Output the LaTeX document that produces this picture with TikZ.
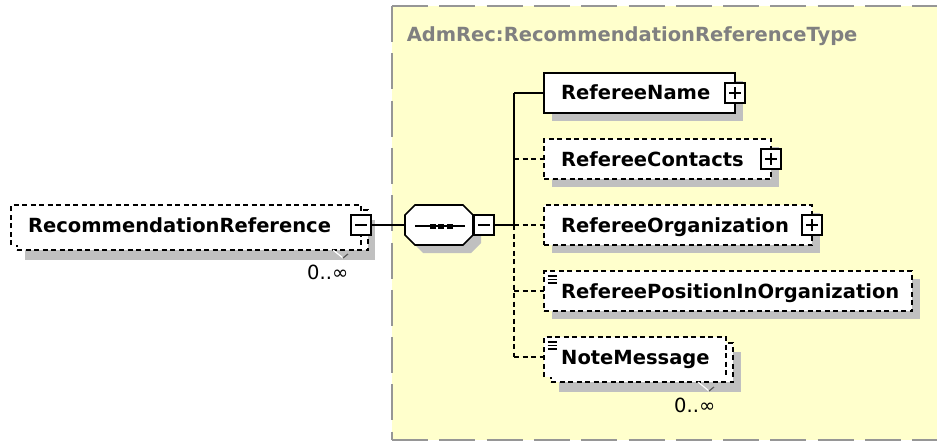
\documentclass[tikz,border=0pt]{standalone}
\usepackage{fontspec}
\setmainfont{DejaVu Sans}
\usetikzlibrary{calc}
\definecolor{typebg}{RGB}{255,255,204}
\definecolor{typeline}{RGB}{150,150,150}
\definecolor{shadowc}{RGB}{192,192,192}
\definecolor{titlec}{RGB}{128,128,128}
\tikzset{
  box/.style={rectangle, inner sep=0pt, outer sep=0pt, anchor=north west, fill=white},
  solidbox/.style={box, draw=black, line width=1.8pt},
  dashbox/.style={box, draw=black, line width=1.7pt, dash pattern=on 5pt off 3.5pt},
  dline/.style={black, line width=1.7pt, dash pattern=on 5pt off 3.5pt},
  shadowbox/.style={rectangle, inner sep=0pt, outer sep=0pt, anchor=north west, fill=shadowc},
  lbl/.style={inner sep=0pt, anchor=base west, font=\fontsize{19.5}{22}\selectfont\bfseries},
  ttlstyle/.style={lbl, text=titlec},
  occ/.style={inner sep=0pt, anchor=base west, font=\fontsize{19.5}{22}\selectfont},
  conn/.style={black, line width=1.7pt},
  dconn/.style={conn, dash pattern=on 5pt off 3.5pt},
  pm/.style={rectangle, draw=black, fill=white, line width=1.4pt, minimum width=20pt, minimum height=20pt, inner sep=0pt, outer sep=0pt},
  pmline/.style={black, line width=1.4pt},
  typedash/.style={typeline, line width=2pt, dash pattern=on 36pt off 11.3pt},
  iconline/.style={black, line width=1.1pt},
}
\begin{document}
\begin{tikzpicture}[x=1pt,y=-1pt]
\useasboundingbox (0,0) rectangle (937,441);
\clip (0,0) rectangle (937,441);

% complex type box
\fill[typebg] (392,6) rectangle (990,440);
\draw[typedash] (392,6) -- (990,6);
\draw[typedash] (392,6) -- (392,440);
\draw[typedash] (392,440) -- (990,440);
\node[ttlstyle] (ttl) at (406.6,42) {AdmRec:RecommendationReferenceType};

% RecommendationReference (multiple occurrence)
\node[shadowbox, minimum width=350pt, minimum height=40pt] (rrS) at (25,220) {};
\node[dashbox, minimum width=351pt, minimum height=40pt] (rrB) at (17,210) {};
\node[box, minimum width=350pt, minimum height=40pt] (rrF) at (11,205) {};
\draw[dline] (rrF.south west) -- (rrF.north west) -- (rrF.north east) -- (rrF.south east);
\draw[white, line width=1.2pt] (333,250) -- (343,258);
\draw[black!65, line width=1.2pt] (343,258) -- (348,254);
\node[lbl] (rrT) at (28,232) {RecommendationReference};
\node[pm] (rrm) at (361,225) {};
\draw[pmline] ($(rrm.west)+(4,0)$) -- ($(rrm.east)+(-4,0)$);
\node[occ] (rrO) at (307,279) {0..∞};

% sequence compositor
\fill[shadowc] (423,213) -- (471,213) -- (481,223) -- (481,243) -- (471,253) -- (423,253) -- (413,243) -- (413,223) -- cycle;
\node[box, fill=none, minimum width=68pt, minimum height=40pt] (seq) at (405,205) {};
\draw[black, fill=white, line width=1.6pt]
  ($(seq.north west)+(10,0)$) -- ($(seq.north east)+(-10,0)$) -- ($(seq.north east)+(0,10)$)
  -- ($(seq.south east)+(0,-10)$) -- ($(seq.south east)+(-10,0)$) -- ($(seq.south west)+(10,0)$)
  -- ($(seq.south west)+(0,-10)$) -- ($(seq.north west)+(0,10)$) -- cycle;
\draw[conn, line width=1.5pt] ($(seq.west)+(10,1)$) -- ($(seq.east)+(-8,1)$);
\fill[black] (429.5,223.5) rectangle (435.5,228.5);
\fill[black] (438,223.5) rectangle (444,228.5);
\fill[black] (446.5,223.5) rectangle (452.5,228.5);
\node[pm] (seqm) at (484,225) {};
\draw[pmline] ($(seqm.west)+(4,0)$) -- ($(seqm.east)+(-4,0)$);

% connectors from element to sequence
\draw[conn] (rrm.east) -- (rrm.east -| seq.west);

% spine coordinates
\coordinate (sp0) at (514,93);
\coordinate (sp1) at (514,159);
\coordinate (sp2) at (514,225);
\coordinate (sp3) at (514,291);
\coordinate (sp4) at (514,357);
\draw[conn] (seqm.east) -- (sp2);
\draw[conn] (sp2) -- (sp0);
\draw[dconn] (sp2) -- (sp4);

% RefereeName
\node[shadowbox, minimum width=191pt, minimum height=40pt] (rnS) at (552,81) {};
\node[solidbox, minimum width=191pt, minimum height=40pt] (rn) at (544,73) {};
\node[lbl] (rnT) at (561,100) {RefereeName};
\node[pm] (rnp) at (rn.east) {};
\draw[pmline] ($(rnp.west)+(4,0)$) -- ($(rnp.east)+(-4,0)$);
\draw[pmline] ($(rnp.north)+(0,4)$) -- ($(rnp.south)+(0,-4)$);
\draw[conn] (sp0) -- (rn.west);

% RefereeContacts
\node[shadowbox, minimum width=227pt, minimum height=40pt] (rcS) at (552,147) {};
\node[dashbox, minimum width=227pt, minimum height=40pt] (rc) at (544,139) {};
\node[lbl] (rcT) at (561,166) {RefereeContacts};
\node[pm] (rcp) at (rc.east) {};
\draw[pmline] ($(rcp.west)+(4,0)$) -- ($(rcp.east)+(-4,0)$);
\draw[pmline] ($(rcp.north)+(0,4)$) -- ($(rcp.south)+(0,-4)$);
\draw[dconn] (sp1) -- (rc.west);

% RefereeOrganization
\node[shadowbox, minimum width=268pt, minimum height=40pt] (roS) at (552,213) {};
\node[dashbox, minimum width=268pt, minimum height=40pt] (ro) at (544,205) {};
\node[lbl] (roT) at (561,232) {RefereeOrganization};
\node[pm] (rop) at (ro.east) {};
\draw[pmline] ($(rop.west)+(4,0)$) -- ($(rop.east)+(-4,0)$);
\draw[pmline] ($(rop.north)+(0,4)$) -- ($(rop.south)+(0,-4)$);
\draw[dconn] (sp2) -- (ro.west);

% RefereePositionInOrganization
\node[shadowbox, minimum width=368pt, minimum height=40pt] (rpS) at (552,279) {};
\node[dashbox, minimum width=368pt, minimum height=40pt] (rp) at (544,271) {};
\draw[iconline] (547.5,276) -- (556.5,276);
\draw[iconline] (547.5,279.5) -- (556.5,279.5);
\draw[iconline] (547.5,283) -- (556.5,283);
\node[lbl] (rpT) at (561,298) {RefereePositionInOrganization};
\draw[dconn] (sp3) -- (rp.west);

% NoteMessage (multiple occurrence)
\node[shadowbox, minimum width=182pt, minimum height=40pt] (nmS) at (559,352) {};
\node[dashbox, minimum width=182pt, minimum height=39pt] (nmB) at (551,343) {};
\node[box, minimum width=182pt, minimum height=40pt] (nm) at (544,337) {};
\draw[dline] (nm.south west) -- (nm.north west) -- (nm.north east) -- (nm.south east);
\draw[white, line width=1.2pt] (698,382) -- (709,391);
\draw[black!65, line width=1.2pt] (709,391) -- (714,387);
\draw[iconline] (547.5,342) -- (556.5,342);
\draw[iconline] (547.5,345.5) -- (556.5,345.5);
\draw[iconline] (547.5,349) -- (556.5,349);
\node[lbl] (nmT) at (561,364) {NoteMessage};
\node[occ] (nmO) at (674,412) {0..∞};
\draw[dconn] (sp4) -- (nm.west);
\end{tikzpicture}
\end{document}
